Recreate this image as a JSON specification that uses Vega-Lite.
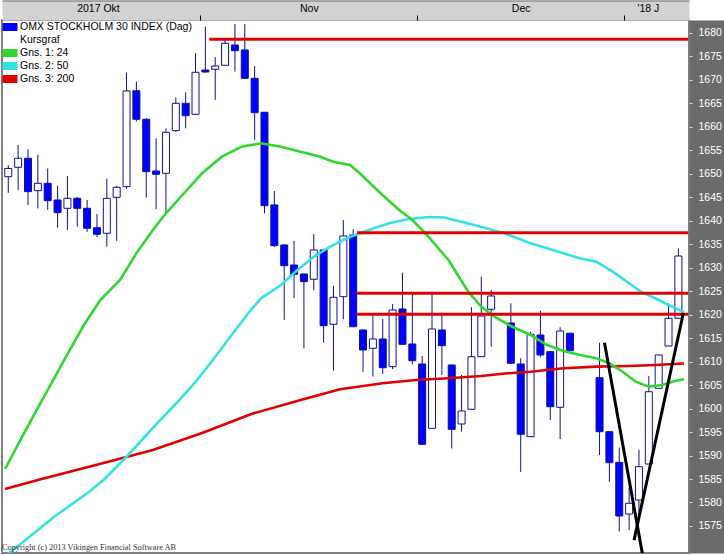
{
  "$schema": "https://vega.github.io/schema/vega-lite/v6.json",
  "width": 687,
  "height": 533,
  "autosize": {"type": "none"},
  "padding": {"left": 2, "top": 20, "right": 35, "bottom": 2},
  "background": "#ffffff",
  "config": {"view": {"stroke": "#808080", "strokeWidth": 2}, "font": "Liberation Sans"},
  "title": {"text": "Copyright (c) 2013 Vikingen Financial Software AB", "orient": "bottom", "anchor": "start", "offset": -3, "baseline": "alphabetic", "font": "Liberation Serif", "fontSize": 8.3, "fontWeight": "normal", "color": "#333333"},
  "datasets": {
    "candles": [
      {"k": 0, "o": 1649.35, "h": 1651.8, "l": 1645.9, "c": 1651.1},
      {"k": 1, "o": 1651.35, "h": 1656.1, "l": 1646.5, "c": 1653.27},
      {"k": 2, "o": 1653.27, "h": 1655.2, "l": 1643.3, "c": 1646.16},
      {"k": 3, "o": 1646.37, "h": 1654.0, "l": 1642.6, "c": 1647.94},
      {"k": 4, "o": 1647.94, "h": 1651.1, "l": 1642.3, "c": 1644.24},
      {"k": 5, "o": 1644.39, "h": 1647.4, "l": 1638.5, "c": 1641.69},
      {"k": 6, "o": 1642.62, "h": 1649.5, "l": 1638.0, "c": 1644.75},
      {"k": 7, "o": 1644.75, "h": 1645.0, "l": 1638.7, "c": 1642.62},
      {"k": 8, "o": 1642.62, "h": 1644.4, "l": 1637.6, "c": 1638.37},
      {"k": 9, "o": 1638.49, "h": 1641.4, "l": 1636.45, "c": 1637.09},
      {"k": 10, "o": 1637.3, "h": 1648.9, "l": 1634.45, "c": 1644.75},
      {"k": 11, "o": 1644.96, "h": 1647.4, "l": 1635.7, "c": 1647.09},
      {"k": 12, "o": 1647.22, "h": 1671.5, "l": 1646.7, "c": 1667.59},
      {"k": 13, "o": 1667.65, "h": 1669.6, "l": 1661.1, "c": 1661.57},
      {"k": 14, "o": 1661.57, "h": 1661.8, "l": 1644.9, "c": 1650.41},
      {"k": 15, "o": 1650.56, "h": 1657.5, "l": 1642.4, "c": 1649.86},
      {"k": 16, "o": 1650.07, "h": 1659.65, "l": 1641.6, "c": 1658.8},
      {"k": 17, "o": 1659.14, "h": 1666.2, "l": 1658.9, "c": 1664.97},
      {"k": 18, "o": 1664.97, "h": 1667.3, "l": 1659.65, "c": 1662.33},
      {"k": 19, "o": 1662.63, "h": 1675.6, "l": 1662.5, "c": 1671.57},
      {"k": 20, "o": 1672.06, "h": 1681.3, "l": 1671.5, "c": 1671.63},
      {"k": 21, "o": 1672.21, "h": 1674.8, "l": 1665.7, "c": 1672.91},
      {"k": 22, "o": 1673.06, "h": 1678.6, "l": 1673.0, "c": 1677.74},
      {"k": 23, "o": 1677.38, "h": 1681.85, "l": 1671.7, "c": 1676.17},
      {"k": 24, "o": 1676.32, "h": 1681.85, "l": 1670.2, "c": 1670.29},
      {"k": 25, "o": 1670.29, "h": 1672.9, "l": 1657.2, "c": 1662.97},
      {"k": 26, "o": 1663.06, "h": 1663.1, "l": 1641.56, "c": 1643.18},
      {"k": 27, "o": 1643.33, "h": 1646.3, "l": 1634.4, "c": 1634.66},
      {"k": 28, "o": 1634.81, "h": 1635.0, "l": 1618.85, "c": 1630.4},
      {"k": 29, "o": 1630.55, "h": 1635.7, "l": 1623.5, "c": 1628.57},
      {"k": 30, "o": 1628.64, "h": 1628.7, "l": 1612.8, "c": 1627.0},
      {"k": 31, "o": 1627.51, "h": 1637.15, "l": 1625.2, "c": 1633.75},
      {"k": 32, "o": 1633.75, "h": 1634.0, "l": 1614.0, "c": 1617.63},
      {"k": 33, "o": 1617.93, "h": 1626.1, "l": 1608.05, "c": 1623.68},
      {"k": 34, "o": 1623.81, "h": 1640.1, "l": 1619.0, "c": 1636.73},
      {"k": 35, "o": 1636.94, "h": 1638.15, "l": 1617.3, "c": 1617.42},
      {"k": 36, "o": 1616.72, "h": 1616.8, "l": 1607.8, "c": 1612.46},
      {"k": 37, "o": 1612.82, "h": 1620.1, "l": 1606.8, "c": 1614.8},
      {"k": 38, "o": 1614.8, "h": 1619.06, "l": 1607.35, "c": 1608.69},
      {"k": 39, "o": 1608.91, "h": 1622.25, "l": 1608.4, "c": 1620.97},
      {"k": 40, "o": 1621.19, "h": 1628.9, "l": 1613.6, "c": 1613.67},
      {"k": 41, "o": 1613.74, "h": 1624.66, "l": 1609.4, "c": 1610.18},
      {"k": 42, "o": 1609.48, "h": 1611.2, "l": 1592.3, "c": 1592.39},
      {"k": 43, "o": 1595.79, "h": 1624.17, "l": 1595.7, "c": 1616.93},
      {"k": 44, "o": 1616.72, "h": 1620.4, "l": 1607.14, "c": 1613.38},
      {"k": 45, "o": 1609.27, "h": 1609.3, "l": 1591.5, "c": 1595.58},
      {"k": 46, "o": 1596.71, "h": 1607.14, "l": 1595.07, "c": 1599.48},
      {"k": 47, "o": 1599.84, "h": 1621.55, "l": 1599.8, "c": 1611.03},
      {"k": 48, "o": 1611.03, "h": 1628.06, "l": 1611.0, "c": 1619.7},
      {"k": 49, "o": 1621.12, "h": 1625.23, "l": 1613.16, "c": 1623.95},
      {"k": 50, "o": 1620.1, "h": 1620.3, "l": 1619.8, "c": 1620.0},
      {"k": 51, "o": 1618.21, "h": 1622.4, "l": 1609.6, "c": 1609.63},
      {"k": 52, "o": 1609.48, "h": 1610.7, "l": 1586.5, "c": 1594.52},
      {"k": 53, "o": 1594.01, "h": 1616.36, "l": 1594.0, "c": 1615.8},
      {"k": 54, "o": 1615.65, "h": 1620.83, "l": 1610.9, "c": 1611.4},
      {"k": 55, "o": 1612.1, "h": 1612.2, "l": 1597.56, "c": 1600.39},
      {"k": 56, "o": 1600.26, "h": 1617.3, "l": 1593.5, "c": 1616.5},
      {"k": 57, "o": 1616.02, "h": 1616.2, "l": 1612.3, "c": 1612.31},
      {"k": 60, "o": 1606.56, "h": 1614.0, "l": 1590.1, "c": 1595.07},
      {"k": 61, "o": 1595.07, "h": 1595.1, "l": 1584.4, "c": 1588.47},
      {"k": 62, "o": 1588.55, "h": 1591.7, "l": 1573.8, "c": 1577.13},
      {"k": 63, "o": 1577.55, "h": 1583.2, "l": 1574.1, "c": 1579.83},
      {"k": 64, "o": 1580.53, "h": 1591.2, "l": 1576.3, "c": 1587.62},
      {"k": 65, "o": 1588.19, "h": 1606.9, "l": 1588.1, "c": 1603.58},
      {"k": 66, "o": 1604.31, "h": 1611.5, "l": 1604.3, "c": 1611.4},
      {"k": 67, "o": 1613.31, "h": 1622.4, "l": 1613.3, "c": 1619.21},
      {"k": 68, "o": 1619.21, "h": 1634.1, "l": 1619.2, "c": 1632.47}
    ],
    "ma": [
      {"series": "Gns. 3: 200", "k": -0.33, "v": 1582.87},
      {"series": "Gns. 3: 200", "k": 3.0, "v": 1584.79},
      {"series": "Gns. 3: 200", "k": 9.67, "v": 1588.41},
      {"series": "Gns. 3: 200", "k": 14.67, "v": 1591.17},
      {"series": "Gns. 3: 200", "k": 19.67, "v": 1594.79},
      {"series": "Gns. 3: 200", "k": 24.67, "v": 1598.84},
      {"series": "Gns. 3: 200", "k": 29.67, "v": 1601.82},
      {"series": "Gns. 3: 200", "k": 33.67, "v": 1604.1},
      {"series": "Gns. 3: 200", "k": 38.0, "v": 1605.37},
      {"series": "Gns. 3: 200", "k": 41.34, "v": 1606.07},
      {"series": "Gns. 3: 200", "k": 44.67, "v": 1606.44},
      {"series": "Gns. 3: 200", "k": 48.0, "v": 1606.93},
      {"series": "Gns. 3: 200", "k": 50.67, "v": 1607.5},
      {"series": "Gns. 3: 200", "k": 53.0, "v": 1607.84},
      {"series": "Gns. 3: 200", "k": 56.34, "v": 1608.57},
      {"series": "Gns. 3: 200", "k": 59.67, "v": 1608.91},
      {"series": "Gns. 3: 200", "k": 63.0, "v": 1609.05},
      {"series": "Gns. 3: 200", "k": 65.67, "v": 1609.27},
      {"series": "Gns. 3: 200", "k": 68.57, "v": 1609.59},
      {"series": "Gns. 2: 50", "k": -0.33, "v": 1568.61},
      {"series": "Gns. 2: 50", "k": 1.34, "v": 1571.31},
      {"series": "Gns. 2: 50", "k": 3.0, "v": 1574.14},
      {"series": "Gns. 2: 50", "k": 4.67, "v": 1576.98},
      {"series": "Gns. 2: 50", "k": 6.34, "v": 1579.47},
      {"series": "Gns. 2: 50", "k": 8.0, "v": 1581.96},
      {"series": "Gns. 2: 50", "k": 9.67, "v": 1584.79},
      {"series": "Gns. 2: 50", "k": 12.17, "v": 1590.11},
      {"series": "Gns. 2: 50", "k": 14.67, "v": 1595.86},
      {"series": "Gns. 2: 50", "k": 17.17, "v": 1601.39},
      {"series": "Gns. 2: 50", "k": 19.17, "v": 1606.07},
      {"series": "Gns. 2: 50", "k": 21.0, "v": 1611.03},
      {"series": "Gns. 2: 50", "k": 22.67, "v": 1615.65},
      {"series": "Gns. 2: 50", "k": 24.34, "v": 1620.27},
      {"series": "Gns. 2: 50", "k": 25.67, "v": 1623.47},
      {"series": "Gns. 2: 50", "k": 27.67, "v": 1626.3},
      {"series": "Gns. 2: 50", "k": 29.34, "v": 1629.49},
      {"series": "Gns. 2: 50", "k": 31.0, "v": 1632.32},
      {"series": "Gns. 2: 50", "k": 32.67, "v": 1634.45},
      {"series": "Gns. 2: 50", "k": 34.34, "v": 1636.24},
      {"series": "Gns. 2: 50", "k": 35.5, "v": 1637.15},
      {"series": "Gns. 2: 50", "k": 37.17, "v": 1638.43},
      {"series": "Gns. 2: 50", "k": 38.67, "v": 1639.43},
      {"series": "Gns. 2: 50", "k": 40.67, "v": 1640.34},
      {"series": "Gns. 2: 50", "k": 42.67, "v": 1640.77},
      {"series": "Gns. 2: 50", "k": 44.17, "v": 1640.67},
      {"series": "Gns. 2: 50", "k": 45.67, "v": 1639.92},
      {"series": "Gns. 2: 50", "k": 47.67, "v": 1638.85},
      {"series": "Gns. 2: 50", "k": 50.34, "v": 1637.3},
      {"series": "Gns. 2: 50", "k": 53.0, "v": 1635.17},
      {"series": "Gns. 2: 50", "k": 54.67, "v": 1634.11},
      {"series": "Gns. 2: 50", "k": 56.34, "v": 1633.04},
      {"series": "Gns. 2: 50", "k": 58.0, "v": 1631.98},
      {"series": "Gns. 2: 50", "k": 59.67, "v": 1631.26},
      {"series": "Gns. 2: 50", "k": 61.34, "v": 1629.13},
      {"series": "Gns. 2: 50", "k": 63.0, "v": 1626.66},
      {"series": "Gns. 2: 50", "k": 64.34, "v": 1624.66},
      {"series": "Gns. 2: 50", "k": 65.67, "v": 1623.47},
      {"series": "Gns. 2: 50", "k": 67.0, "v": 1622.04},
      {"series": "Gns. 2: 50", "k": 68.57, "v": 1620.55},
      {"series": "Gns. 1: 24", "k": -0.33, "v": 1587.13},
      {"series": "Gns. 1: 24", "k": 1.67, "v": 1595.01},
      {"series": "Gns. 1: 24", "k": 3.67, "v": 1602.67},
      {"series": "Gns. 1: 24", "k": 5.67, "v": 1610.33},
      {"series": "Gns. 1: 24", "k": 7.67, "v": 1617.78},
      {"series": "Gns. 1: 24", "k": 9.34, "v": 1623.1},
      {"series": "Gns. 1: 24", "k": 11.34, "v": 1627.36},
      {"series": "Gns. 1: 24", "k": 13.0, "v": 1633.04},
      {"series": "Gns. 1: 24", "k": 14.67, "v": 1638.0},
      {"series": "Gns. 1: 24", "k": 16.0, "v": 1641.56},
      {"series": "Gns. 1: 24", "k": 17.67, "v": 1645.45},
      {"series": "Gns. 1: 24", "k": 19.67, "v": 1650.07},
      {"series": "Gns. 1: 24", "k": 21.67, "v": 1653.61},
      {"series": "Gns. 1: 24", "k": 23.67, "v": 1655.73},
      {"series": "Gns. 1: 24", "k": 25.67, "v": 1656.46},
      {"series": "Gns. 1: 24", "k": 27.67, "v": 1655.73},
      {"series": "Gns. 1: 24", "k": 29.67, "v": 1654.67},
      {"series": "Gns. 1: 24", "k": 31.67, "v": 1653.61},
      {"series": "Gns. 1: 24", "k": 32.97, "v": 1652.54},
      {"series": "Gns. 1: 24", "k": 34.67, "v": 1651.84},
      {"series": "Gns. 1: 24", "k": 35.67, "v": 1650.07},
      {"series": "Gns. 1: 24", "k": 37.97, "v": 1645.45},
      {"series": "Gns. 1: 24", "k": 39.67, "v": 1642.26},
      {"series": "Gns. 1: 24", "k": 41.0, "v": 1640.13},
      {"series": "Gns. 1: 24", "k": 42.34, "v": 1637.3},
      {"series": "Gns. 1: 24", "k": 44.67, "v": 1631.62},
      {"series": "Gns. 1: 24", "k": 46.67, "v": 1624.87},
      {"series": "Gns. 1: 24", "k": 48.0, "v": 1621.68},
      {"series": "Gns. 1: 24", "k": 49.34, "v": 1619.55},
      {"series": "Gns. 1: 24", "k": 51.0, "v": 1617.57},
      {"series": "Gns. 1: 24", "k": 53.0, "v": 1615.65},
      {"series": "Gns. 1: 24", "k": 54.67, "v": 1613.52},
      {"series": "Gns. 1: 24", "k": 56.34, "v": 1612.25},
      {"series": "Gns. 1: 24", "k": 58.0, "v": 1611.4},
      {"series": "Gns. 1: 24", "k": 59.67, "v": 1610.69},
      {"series": "Gns. 1: 24", "k": 61.0, "v": 1609.63},
      {"series": "Gns. 1: 24", "k": 62.34, "v": 1607.84},
      {"series": "Gns. 1: 24", "k": 63.67, "v": 1605.71},
      {"series": "Gns. 1: 24", "k": 65.0, "v": 1604.65},
      {"series": "Gns. 1: 24", "k": 66.34, "v": 1605.01},
      {"series": "Gns. 1: 24", "k": 67.67, "v": 1605.86},
      {"series": "Gns. 1: 24", "k": 68.57, "v": 1606.22}
    ],
    "levels": [
      {"x1": 20.4, "x2": 69, "y": 1678.6},
      {"x1": 35.4, "x2": 69, "y": 1637.43},
      {"x1": 35.4, "x2": 69, "y": 1624.53},
      {"x1": 35.4, "x2": 69, "y": 1620.06}
    ],
    "trend": [
      {"id": "down", "k": 60.5, "v": 1614.0},
      {"id": "down", "k": 64.4, "v": 1568.5},
      {"id": "up", "k": 63.5, "v": 1572.0},
      {"id": "up", "k": 68.5, "v": 1620.27}
    ]
  },
  "layer": [
    {
      "data": {"name": "candles"},
      "mark": {"type": "rule", "color": "#101090", "strokeWidth": 1, "clip": true},
      "encoding": {
        "x": {"field": "k", "type": "quantitative", "scale": {"domain": [-0.13, 68.57], "nice": false, "zero": false},
              "axis": {"orient": "top", "offset": 10, "domainWidth": 20, "domainColor": "#d2d2d2", "domainCap": "butt", "labels": false, "ticks": false, "grid": false, "title": null}},
        "y": {"field": "l", "type": "quantitative", "scale": {"domain": [1569.25, 1682.7], "nice": false, "zero": false},
              "axis": {"orient": "right", "offset": 17.5, "domainWidth": 35, "domainColor": "#6b6b6b", "domainCap": "butt", "labels": false, "ticks": false, "grid": false, "title": null}},
        "y2": {"field": "h"}
      }
    },
    {
      "data": {"name": "candles"},
      "mark": {"type": "bar", "size": 7, "stroke": "#101090", "strokeWidth": 1, "clip": true},
      "encoding": {
        "x": {"field": "k", "type": "quantitative",
              "axis": {"orient": "top", "values": [19.5, 41.5, 62.5], "labels": false, "domain": false, "grid": false, "ticks": true, "tickSize": 5, "tickColor": "#000000", "tickWidth": 1, "title": null}},
        "y": {"field": "o", "type": "quantitative",
              "axis": {"orient": "right", "values": [1575, 1580, 1585, 1590, 1595, 1600, 1605, 1610, 1615, 1620, 1625, 1630, 1635, 1640, 1645, 1650, 1655, 1660, 1665, 1670, 1675, 1680], "format": "d", "domain": false, "grid": false, "ticks": true, "tickSize": 3, "tickColor": "#e0e0e0", "labelColor": "#ffffff", "labelFont": "Liberation Sans", "labelFontSize": 10.5, "labelPadding": 6, "labelBaseline": "middle", "labelFlush": false, "labelOverlap": false, "title": null}},
        "y2": {"field": "c"},
        "fill": {"condition": {"test": "datum.c < datum.o", "value": "#0000ff"}, "value": "#ffffff"}
      }
    },
    {
      "data": {"name": "ma"},
      "mark": {"type": "line", "strokeWidth": 2.6, "clip": true},
      "encoding": {
        "x": {"field": "k", "type": "quantitative",
              "axis": {"orient": "top", "values": [9.1, 30.5, 52, 64.9], "labelExpr": "datum.value < 20 ? '2017 Okt' : datum.value < 40 ? 'Nov' : datum.value < 60 ? 'Dec' : \"'18 J\"", "ticks": false, "tickSize": 0, "domain": false, "grid": false, "labelPadding": 8.5, "labelBaseline": "alphabetic", "labelFont": "Liberation Sans", "labelFontSize": 10.5, "labelColor": "#000000", "labelFlush": false, "labelOverlap": false, "labelBound": false, "title": null}},
        "y": {"field": "v", "type": "quantitative", "axis": null},
        "color": {"field": "series", "type": "nominal",
                  "scale": {"domain": ["OMX STOCKHOLM 30 INDEX (Dag)", "Kursgraf", "Gns. 1: 24", "Gns. 2: 50", "Gns. 3: 200"], "range": ["#0000ff", "transparent", "#2ed82e", "#33e3e3", "#e00000"]},
                  "legend": {"title": null, "orient": "none", "legendX": 1, "legendY": 0, "padding": 0, "rowPadding": 0, "symbolType": "M-1.08,-0.54H1.08V0.54H-1.08Z", "symbolSize": 169, "symbolStrokeWidth": 1, "labelFont": "Liberation Sans", "labelFontSize": 10.5, "labelColor": "#000000", "labelOffset": 3, "labelLimit": 400,
                             "encoding": {"symbols": {
                               "fill": {"condition": [{"test": "datum.value === 'OMX STOCKHOLM 30 INDEX (Dag)'", "value": "#0000ff"}, {"test": "datum.value === 'Gns. 1: 24'", "value": "#2ed82e"}, {"test": "datum.value === 'Gns. 2: 50'", "value": "#33e3e3"}, {"test": "datum.value === 'Gns. 3: 200'", "value": "#e00000"}], "value": "transparent"},
                               "stroke": {"condition": {"test": "datum.value === 'Kursgraf'", "value": "transparent"}, "value": "#000000"},
                               "strokeWidth": {"value": 1}
                             }}}}
      }
    },
    {
      "data": {"name": "levels"},
      "mark": {"type": "rule", "color": "#e00000", "strokeWidth": 3, "clip": true},
      "encoding": {
        "x": {"field": "x1", "type": "quantitative",
              "axis": {"orient": "top", "offset": 19.5, "domainWidth": 1, "domainColor": "#707070", "domainCap": "butt", "labels": false, "ticks": false, "grid": false, "title": null}},
        "x2": {"field": "x2"},
        "y": {"field": "y", "type": "quantitative", "axis": null}
      }
    },
    {
      "data": {"name": "trend"},
      "mark": {"type": "line", "color": "#000000", "strokeWidth": 3, "clip": true},
      "encoding": {
        "x": {"field": "k", "type": "quantitative", "axis": null},
        "y": {"field": "v", "type": "quantitative", "axis": null},
        "detail": {"field": "id"}
      }
    }
  ],
  "resolve": {"axis": {"x": "independent", "y": "independent"}}
}
